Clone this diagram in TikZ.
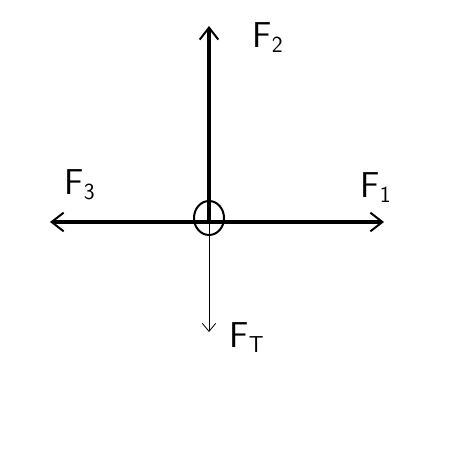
\documentclass[tikz,border=0pt]{standalone}
\usetikzlibrary{arrows.meta}
\newcommand{\lbl}[2]{\textsf{#1}$_{\mathsf{#2}}$}

\begin{document}
\begin{tikzpicture}[
    x=0.75pt,
    y=-0.75pt,
    force/.style={line width=3pt, -{Straight Barb[length=9pt, width=14pt, line width=1.5pt]}},
    thinforce/.style={line width=0.6pt, -{Straight Barb[length=6pt, width=10pt, line width=0.6pt]}},
    every node/.style={font=\sffamily\fontsize{27}{27}\selectfont}
]
    \useasboundingbox (0,0) rectangle (456,473);

    \coordinate (o) at (209,222);
    \coordinate (f1) at (384,222);
    \coordinate (f2) at (209,26);
    \coordinate (f3) at (50,222);
    \coordinate (ft) at (209,332);

    \draw[force] (o) -- (f1);
    \draw[force] (o) -- (f3);
    \draw[force] (o) -- (f2);
    \draw[thinforce] (o) -- (ft);
    \draw[line width=1.5pt] (209,218) ellipse (15 and 17);

    \node (l1) at (376,188) {\lbl{F}{1}};
    \node (l2) at (268,38) {\lbl{F}{2}};
    \node (l3) at (80,185) {\lbl{F}{3}};
    \node (lt) at (247,338) {\lbl{F}{T}};
\end{tikzpicture}
\end{document}
